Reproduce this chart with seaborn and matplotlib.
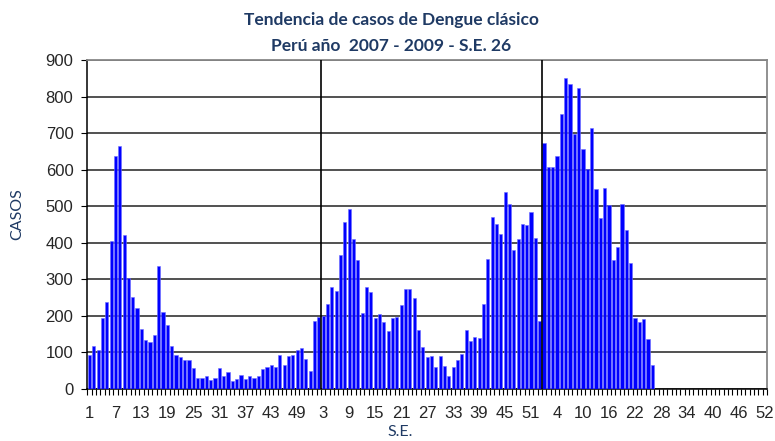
import numpy as np
import pandas as pd
import matplotlib
matplotlib.use("Agg")
import matplotlib.pyplot as plt
from matplotlib.ticker import FixedLocator
import seaborn as sns

# weekly cases (S.E.)
casos_2007 = [93, 118, 107, 193, 237, 406, 636, 665, 420, 303, 252, 222, 165,
              133, 129, 148, 337, 211, 175, 118, 93, 87, 79, 79, 57, 29,
              31, 35, 25, 31, 57, 36, 46, 21, 28, 38, 28, 35, 31, 35, 54, 60,
              65, 60, 93, 65, 89, 93, 107, 111, 82, 50]
casos_2008 = [187, 198, 200, 233, 280, 269, 366, 457, 492, 409, 352, 208, 280,
              265, 194, 205, 183, 158, 194, 198, 230, 273, 273, 248, 161, 115,
              87, 89, 60, 89, 64, 36, 60, 79, 97, 161, 132, 143, 139, 233, 356,
              470, 452, 424, 539, 506, 380, 409, 452, 448, 485, 413, 187]
casos_2009 = [672, 606, 606, 636, 751, 851, 833, 697, 822, 657, 603, 715, 546,
              467, 549, 502, 352, 388, 506, 435, 345, 194, 183, 191, 136, 67]
semanas_por_anio = [52, 53, 52]

weeks = np.concatenate([np.arange(1, n + 1) for n in semanas_por_anio])
valores = casos_2007 + casos_2008 + casos_2009
df = pd.DataFrame({"pos": np.arange(len(valores)), "casos": valores})

navy = "#1F3A64"
sns.set_style("white")
plt.rcParams["font.family"] = ["Liberation Sans", "DejaVu Sans"]

fig = plt.figure(figsize=(7.75, 4.41), dpi=100)
ax = fig.add_axes([0.1126, 0.1179, 0.8771, 0.7461])

sns.barplot(data=df, x="pos", y="casos", native_scale=True, width=0.72,
            color="#0000FF", saturation=1, edgecolor="#6E6EFF", linewidth=0.4,
            ax=ax, zorder=3)

ax.set_xlim(-0.5, len(weeks) - 0.5)
ax.set_ylim(0, 900)
ax.set_yticks(range(0, 901, 100))
ax.yaxis.grid(True, color="#222222", linewidth=1.1, zorder=0)
ax.xaxis.grid(False)

# year separators (drawn by hand in the original, slightly off the boundary)
for xv in [53.4, 104.5]:
    ax.axvline(xv, color="black", linewidth=1.2, zorder=4)

tick_pos = np.arange(0, len(weeks), 6)
ax.xaxis.set_major_locator(FixedLocator(tick_pos))
ax.set_xticklabels([str(weeks[p]) for p in tick_pos])
ax.xaxis.set_minor_locator(FixedLocator(np.arange(-0.5, len(weeks), 1)))
ax.tick_params(axis="x", which="major", length=0, pad=12, labelsize=12)
ax.tick_params(axis="x", which="minor", length=4, width=0.8, color="black",
               direction="out", bottom=True)
ax.tick_params(axis="y", length=4, width=0.8, color="black", direction="out",
               left=True, pad=6, labelsize=12)

for s in ["left", "bottom"]:
    ax.spines[s].set_color("black")
    ax.spines[s].set_linewidth(1.1)
for s in ["top", "right"]:
    ax.spines[s].set_color("#888888")
    ax.spines[s].set_linewidth(1.3)

ax.set_xlabel("S.E.", color=navy, fontsize=11.5, family="Lato")
ax.xaxis.set_label_coords(0.46, -0.108)
ax.set_ylabel("CASOS", color=navy, fontsize=11.5, family="Lato")
ax.yaxis.set_label_coords(-0.093, 0.53)

fig.text(0.505, 0.955, "Tendencia de casos de Dengue clásico", ha="center",
         va="center", color=navy, fontsize=12.5, fontweight="bold", family="Lato")
fig.text(0.505, 0.895, "Perú año  2007 - 2009 - S.E. 26", ha="center",
         va="center", color=navy, fontsize=12.5, fontweight="bold", family="Lato")

fig.savefig("out.png", dpi=100)
